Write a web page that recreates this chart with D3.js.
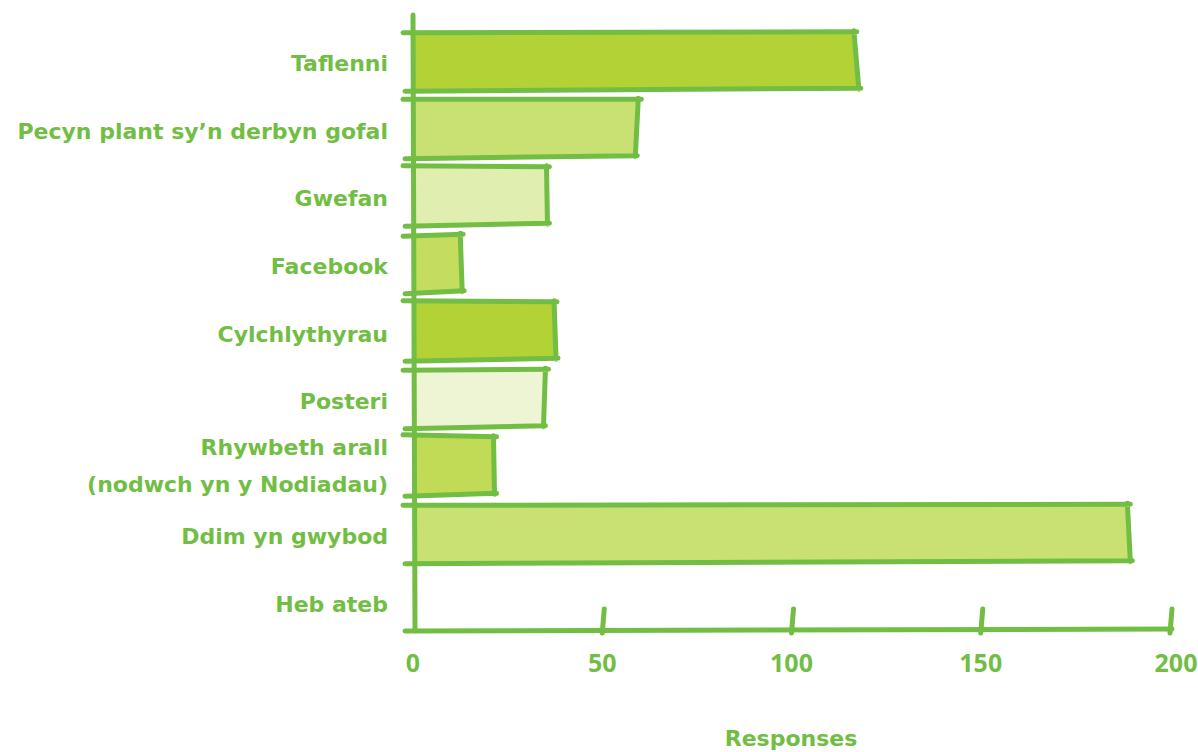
<!DOCTYPE html>
<html lang="en">
<head>
<meta charset="UTF-8">
<title>Responses</title>
<script src="https://d3js.org/d3.v7.min.js"></script>
<style>
  body { margin: 0; background: #fff; }
  .lbl { font: bold 22px "DejaVu Sans", "Open Sans", sans-serif; fill: #72be44; }
  .tick { font: bold 25px "Open Sans", sans-serif; fill: #72be44; }
</style>
</head>
<body>
<svg width="1198" height="752"></svg>
<script>
// categories and responses
const categories = ["Taflenni", "Pecyn plant sy\u2019n derbyn gofal", "Gwefan", "Facebook",
  "Cylchlythyrau", "Posteri", "Rhywbeth arall\n(nodwch yn y Nodiadau)", "Ddim yn gwybod", "Heb ateb"];
const responses = [117, 59, 35, 13, 37, 35, 21, 189, 0];
const fills = ["#b2d235", "#c9e073", "#e0eeb0", "#c4dd5f", "#b2d235", "#edf5d4", "#c2db57", "#c9e073", "#ffffff"];
const ticks = [0, 50, 100, 150, 200];

const green = "#72be44";
const svg = d3.select("svg");

const x = d3.scaleLinear().domain([0, 200]).range([413, 1170]);
const y = d3.scaleBand().domain(categories).range([27, 636]).paddingInner(0.12).paddingOuter(0.07);

// small wobble so the lines look hand drawn (fixed per bar, not data)
const wob = [[1, -2, 3], [0, 2, -1], [-1, 1, 2], [2, -2, 0], [-1, 1, 3], [1, 0, -2], [-2, 1, 2], [1, -1, 2], [0, 0, 0]];

const g = svg.append("g");

categories.forEach((c, i) => {
  if (responses[i] === 0) return;
  const x0 = x(0), x1 = x(responses[i]);
  const y0 = y(c), y1 = y(c) + y.bandwidth();
  const w = wob[i];
  g.append("path")
    .attr("d", `M${x0},${y0 + w[0]} L${x1 + w[1]},${y0} L${x1 + w[2]},${y1 - 3} L${x0},${y1}Z`)
    .attr("fill", fills[i]);
  // outline: top/bottom edges overshoot the axis on the left
  g.append("path")
    .attr("d", `M${x0 - 10},${y0 + w[0]} L${x1 + w[1] + 3},${y0} M${x1 + w[1]},${y0 - 1} L${x1 + w[2]},${y1 - 2} M${x1 + w[2] + 2},${y1 - 3} L${x0 - 8},${y1}`)
    .attr("fill", "none").attr("stroke", green).attr("stroke-width", 5)
    .attr("stroke-linecap", "round").attr("stroke-linejoin", "round");
});

// axes
const axis = svg.append("g").attr("stroke", green).attr("stroke-width", 5).attr("stroke-linecap", "round").attr("fill", "none");
axis.append("line").attr("x1", x(0)).attr("x2", x(0) + 2).attr("y1", 15).attr("y2", 631);
axis.append("line").attr("x1", x(0) - 8).attr("x2", x(200) + 2).attr("y1", 631).attr("y2", 629);
axis.selectAll(".tk").data(ticks.slice(1)).join("line")
  .attr("x1", d => x(d) + 2).attr("x2", d => x(d))
  .attr("y1", 609).attr("y2", 633);

// tick labels
svg.selectAll(".tl").data(ticks).join("text")
  .attr("class", "tick").attr("text-anchor", "middle")
  .attr("x", d => x(d) + (d === 200 ? 6 : 0)).attr("y", 672)
  .text(d => d);

// category labels
categories.forEach(c => {
  const lines = c.split("\n");
  const t = svg.append("text").attr("class", "lbl").attr("text-anchor", "end")
    .attr("x", 388).attr("y", y(c) + y.bandwidth() / 2 + 10 - (lines.length - 1) * 22);
  lines.forEach((l, j) => t.append("tspan").attr("x", 388).attr("dy", j ? 37 : 0).text(l));
});

svg.append("text").attr("class", "lbl").attr("text-anchor", "middle")
  .attr("x", 791).attr("y", 746).text("Responses");
</script>
</body>
</html>
